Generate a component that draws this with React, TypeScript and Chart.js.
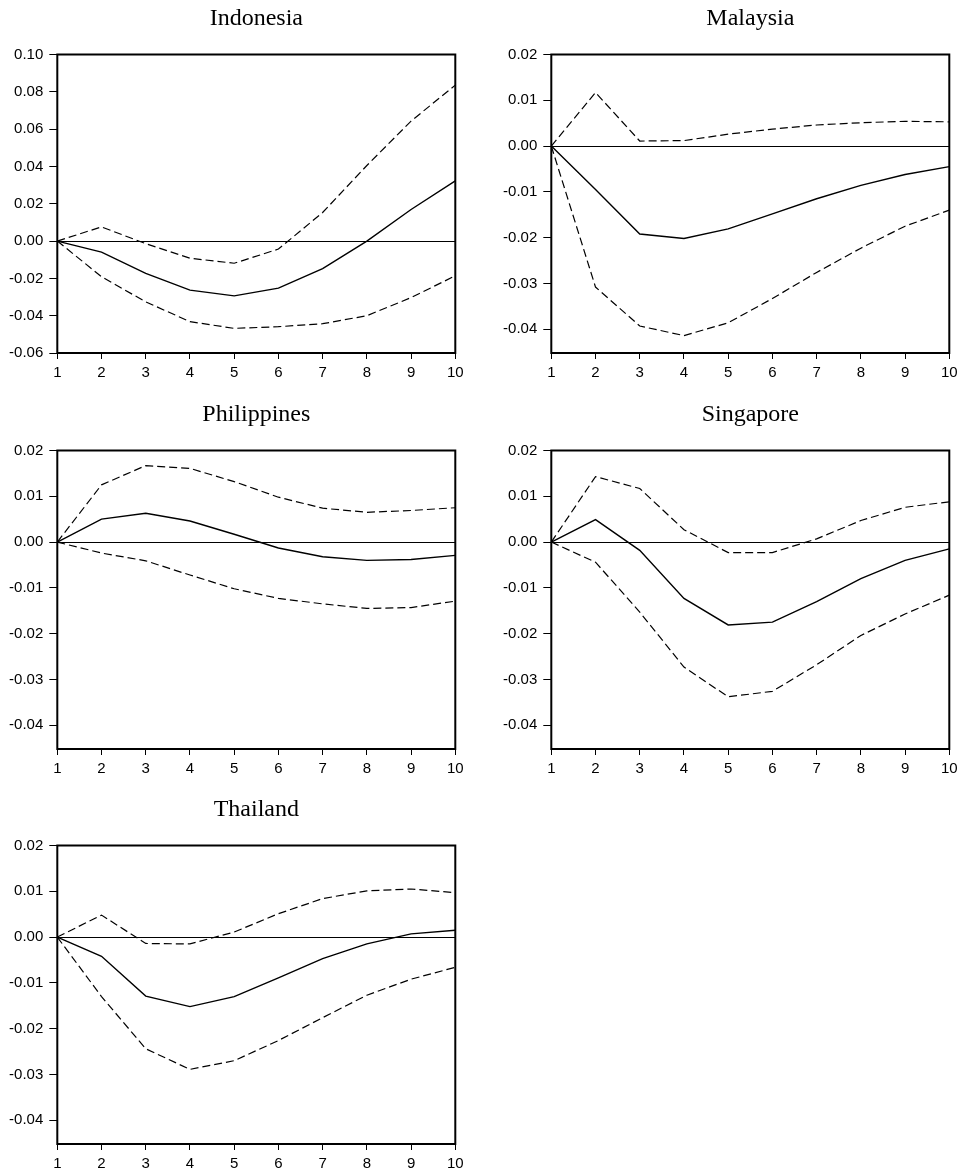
import React, { useEffect, useRef } from 'react';
import { Chart, registerables } from 'chart.js';

Chart.register(...registerables);

// ---- data ----
const periods = ['1', '2', '3', '4', '5', '6', '7', '8', '9', '10'];

const indonesiaIrf = [0, -0.0059, -0.0173, -0.0263, -0.0294, -0.0252, -0.0148, 0.0, 0.0169, 0.0323];
const indonesiaUpper = [0, 0.0076, -0.0014, -0.0092, -0.0119, -0.0043, 0.0153, 0.0405, 0.0643, 0.0836];
const indonesiaLower = [0, -0.0191, -0.0326, -0.0432, -0.0468, -0.0459, -0.0443, -0.04, -0.0303, -0.0186];

const malaysiaIrf = [0, -0.0095, -0.0192, -0.0202, -0.0181, -0.0148, -0.0115, -0.0086, -0.0062, -0.0045];
const malaysiaUpper = [0, 0.0117, 0.0011, 0.0012, 0.0026, 0.0037, 0.0046, 0.0051, 0.0054, 0.0053];
const malaysiaLower = [0, -0.0308, -0.0393, -0.0414, -0.0386, -0.0333, -0.0276, -0.0223, -0.0175, -0.014];

const philippinesIrf = [0, 0.005, 0.0063, 0.0046, 0.0017, -0.0013, -0.0032, -0.004, -0.0038, -0.0029];
const philippinesUpper = [0, 0.0125, 0.0167, 0.0161, 0.0132, 0.0098, 0.0074, 0.0065, 0.0069, 0.0075];
const philippinesLower = [0, -0.0024, -0.0041, -0.0072, -0.0102, -0.0123, -0.0135, -0.0145, -0.0143, -0.0129];

const singaporeIrf = [0, 0.0049, -0.0018, -0.0123, -0.0181, -0.0175, -0.013, -0.008, -0.004, -0.0015];
const singaporeUpper = [0, 0.0143, 0.0117, 0.0027, -0.0023, -0.0023, 0.0007, 0.0047, 0.0076, 0.0088];
const singaporeLower = [0, -0.0044, -0.0153, -0.0273, -0.0338, -0.0326, -0.0268, -0.0204, -0.0157, -0.0116];

const thailandIrf = [0, -0.0042, -0.0129, -0.0152, -0.013, -0.0089, -0.0047, -0.0015, 0.0007, 0.0015];
const thailandUpper = [0, 0.0048, -0.0014, -0.0015, 0.0011, 0.0051, 0.0084, 0.0101, 0.0105, 0.0097];
const thailandLower = [0, -0.013, -0.0244, -0.0289, -0.027, -0.0226, -0.0176, -0.0127, -0.0092, -0.0066];

const wideTicks = [-0.06, -0.04, -0.02, 0, 0.02, 0.04, 0.06, 0.08, 0.1];
const narrowTicks = [-0.04, -0.03, -0.02, -0.01, 0, 0.01, 0.02];

const wideRange = [-0.06, 0.1];
const narrowRange = [-0.0452, 0.02];

// ---- layout (not data) ----
const CANVAS_W = 480;
const CANVAS_H = 384;
const AREA_LEFT = 57.3;
const AREA_RIGHT = 455.3;
const AREA_TOP = 54.5;
const AREA_BOTTOM = 353;
const TITLE_BASELINE = 25;

type Panel = {
  title: string;
  irf: number[];
  upper: number[];
  lower: number[];
  range: number[];
  ticks: number[];
  left: number;
  top: number;
};

const panels: Panel[] = [
  { title: 'Indonesia', irf: indonesiaIrf, upper: indonesiaUpper, lower: indonesiaLower, range: wideRange, ticks: wideTicks, left: 0, top: 0 },
  { title: 'Malaysia', irf: malaysiaIrf, upper: malaysiaUpper, lower: malaysiaLower, range: narrowRange, ticks: narrowTicks, left: 494.2, top: 0 },
  { title: 'Philippines', irf: philippinesIrf, upper: philippinesUpper, lower: philippinesLower, range: narrowRange, ticks: narrowTicks, left: 0, top: 395.5 },
  { title: 'Singapore', irf: singaporeIrf, upper: singaporeUpper, lower: singaporeLower, range: narrowRange, ticks: narrowTicks, left: 494.2, top: 395.5 },
  { title: 'Thailand', irf: thailandIrf, upper: thailandUpper, lower: thailandLower, range: narrowRange, ticks: narrowTicks, left: 0, top: 790.5 },
];

const boxPlugin = {
  id: 'frameBox',
  afterDatasetsDraw(chart: any) {
    const { ctx, chartArea } = chart;
    const { left, top, right, bottom } = chartArea;
    ctx.save();
    ctx.strokeStyle = '#000';
    ctx.lineWidth = 2;
    ctx.strokeRect(left, top, right - left, bottom - top);
    ctx.restore();
  },
};

const centeredTitlePlugin = {
  id: 'centeredTitle',
  afterDraw(chart: any, _args: any, opts: any) {
    const { ctx, chartArea } = chart;
    ctx.save();
    ctx.fillStyle = '#000';
    ctx.font = '24px "Liberation Serif", "Times New Roman", serif';
    ctx.textAlign = 'center';
    ctx.textBaseline = 'alphabetic';
    ctx.fillText(opts.text, (chartArea.left + chartArea.right) / 2, TITLE_BASELINE);
    ctx.restore();
  },
};

const tickFont = { family: '"Liberation Sans", Arial, sans-serif', size: 15 };

function PanelChart({ panel }: { panel: Panel }) {
  const ref = useRef<HTMLCanvasElement | null>(null);
  useEffect(() => {
    if (!ref.current) return;
    const line = (data: number[], dashed: boolean) => ({
      data,
      borderColor: '#000',
      borderWidth: dashed ? 1.2 : 1.4,
      borderDash: dashed ? [8, 4] : [],
      pointRadius: 0,
      tension: 0,
      fill: false,
    });
    const chart = new Chart(ref.current, {
      type: 'line',
      data: {
        labels: periods,
        datasets: [line(panel.upper, true), line(panel.irf, false), line(panel.lower, true)],
      },
      plugins: [boxPlugin, centeredTitlePlugin],
      options: {
        responsive: false,
        animation: false,
        devicePixelRatio: 1,
        layout: { padding: { left: 0, right: CANVAS_W - AREA_RIGHT, top: AREA_TOP, bottom: 0 } },
        plugins: {
          legend: { display: false },
          tooltip: { enabled: false },
          title: { display: false },
          centeredTitle: { text: panel.title },
        },
        scales: {
          x: {
            type: 'category',
            offset: false,
            border: { display: false },
            grid: { drawOnChartArea: false, drawTicks: true, tickLength: 6, tickColor: '#000', color: '#000', lineWidth: 1 },
            ticks: { color: '#000', font: tickFont, padding: 5, autoSkip: false, maxRotation: 0 },
            afterFit(scale: any) {
              scale.height = CANVAS_H - AREA_BOTTOM;
              scale.paddingLeft = 0;
              scale.paddingRight = 0;
            },
          },
          y: {
            type: 'linear',
            min: panel.range[0],
            max: panel.range[1],
            border: { display: false },
            grid: {
              drawOnChartArea: true,
              drawTicks: true,
              tickLength: 8,
              tickColor: '#000',
              lineWidth: 1,
              color: (c: any) => (c.tick && Math.abs(c.tick.value) < 1e-9 ? '#000' : 'rgba(0,0,0,0)'),
            },
            ticks: {
              color: '#000',
              font: tickFont,
              padding: 6,
              callback: (v: any) => Number(v).toFixed(2),
            },
            afterBuildTicks(scale: any) {
              scale.ticks = panel.ticks.map((v) => ({ value: v }));
            },
            afterFit(scale: any) {
              scale.width = AREA_LEFT;
              scale.paddingTop = 0;
              scale.paddingBottom = 0;
            },
          },
        },
      } as any,
    });
    return () => chart.destroy();
  }, [panel]);
  return (
    <canvas
      ref={ref}
      width={CANVAS_W}
      height={CANVAS_H}
      style={{ position: 'absolute', left: panel.left, top: panel.top, width: CANVAS_W, height: CANVAS_H }}
    />
  );
}

export default function App() {
  return (
    <div style={{ position: 'absolute', left: 0, top: 0, width: 961, height: 1174, overflow: 'hidden', background: '#fff' }}>
      {panels.map((p) => (
        <PanelChart key={p.title} panel={p} />
      ))}
    </div>
  );
}
